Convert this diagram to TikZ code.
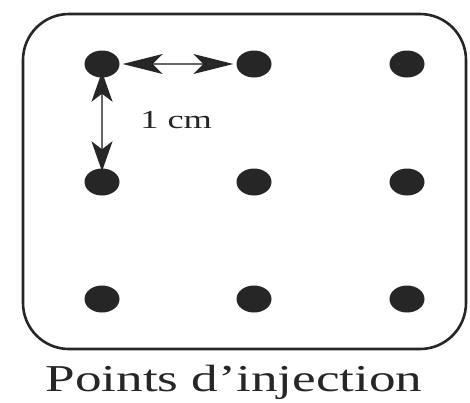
\documentclass[tikz,border=0pt]{standalone}
\usepackage{fontspec}
\setmainfont{Liberation Serif}
\usetikzlibrary{arrows.meta,shapes.geometric}
\definecolor{ink}{HTML}{262626}
\begin{document}
\begin{tikzpicture}[x=1pt,y=-1pt,
  dot/.style={ellipse,draw=none,fill=ink,minimum width=35pt,minimum height=27pt,inner sep=0pt},
  frame/.style={draw=ink,line width=2.6pt,rounded corners=46pt},
  hdim/.style={draw=ink!70,line width=1.6pt,{Stealth[length=40pt,width=20pt,inset=10pt,color=ink]}-{Stealth[length=40pt,width=20pt,inset=10pt,color=ink]}},
  vdim/.style={draw=ink!70,line width=1.6pt,{Stealth[length=30pt,width=21pt,inset=8pt,color=ink]}-{Stealth[length=30pt,width=21pt,inset=8pt,color=ink]}},
  lbl/.style={text=ink,inner sep=0pt}]
\useasboundingbox (0,0) rectangle (470,402);
\fill[white] (0,0) rectangle (470,402);
\draw[frame] (23,14) rectangle (466,349);
\node[dot] (d11) at (102,64) {};
\node[dot] (d12) at (254,64) {};
\node[dot] (d13) at (407,64) {};
\node[dot] (d21) at (102,182) {};
\node[dot] (d22) at (254,182) {};
\node[dot] (d23) at (407,182) {};
\node[dot] (d31) at (102,299) {};
\node[dot] (d32) at (254,299) {};
\node[dot] (d33) at (407,299) {};
\draw[hdim] ([xshift=3pt]d11.east) -- ([xshift=-3pt]d12.west);
\draw[vdim] ([yshift=6pt]d11.south) -- ([yshift=-3pt]d21.north);
\node[lbl,anchor=base west,xscale=1.4,font=\fontsize{26}{30}\selectfont] (cm) at (140,128) {1 cm};
\node[lbl,anchor=base,xscale=1.4,font=\fontsize{38}{44}\selectfont] (cap) at (234,391) {Points d’injection};
\end{tikzpicture}
\end{document}
